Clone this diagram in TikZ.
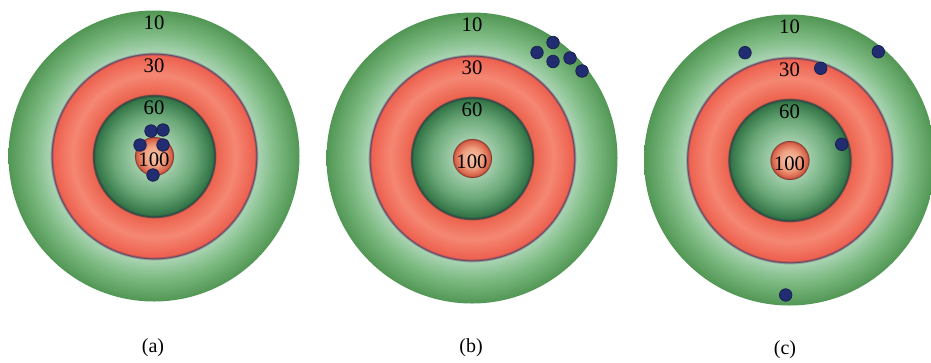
\documentclass[tikz,border=0pt]{standalone}
\usepackage{fontspec}
\setmainfont{Liberation Serif}
\usepackage{tikz}
\usepackage{xcolor}
\definecolor{shotblue}{RGB}{34,44,112}
\definecolor{shotedge}{RGB}{20,26,70}
\pgfdeclareradialshading{target}{\pgfpoint{0bp}{0bp}}{%
  rgb(0bp)=(0.965,0.77,0.66);
  rgb(1.7bp)=(0.94,0.63,0.51);
  rgb(3.05bp)=(0.84,0.37,0.27);
  rgb(3.3bp)=(0.50,0.22,0.20);
  rgb(3.45bp)=(0.62,0.80,0.66);
  rgb(7bp)=(0.42,0.66,0.47);
  rgb(10.1bp)=(0.20,0.46,0.28);
  rgb(10.45bp)=(0.16,0.24,0.26);
  rgb(10.7bp)=(0.925,0.39,0.31);
  rgb(14bp)=(0.96,0.53,0.45);
  rgb(17.3bp)=(0.93,0.38,0.31);
  rgb(17.6bp)=(0.38,0.27,0.40);
  rgb(17.85bp)=(0.66,0.83,0.70);
  rgb(21bp)=(0.49,0.73,0.51);
  rgb(25bp)=(0.32,0.59,0.33);
  rgb(50bp)=(0.32,0.59,0.33)}

\begin{document}
\begin{tikzpicture}[x=1pt, y=-1pt,
  board/.style={shading=target},
  ring/.style={inner sep=0pt, font=\fontsize{20.7}{22}\selectfont},
  shot/.style={fill=shotblue, draw=shotedge, line width=0.6pt},
  caption/.style={inner sep=0pt, font=\fontsize{20}{22}\selectfont},
]
  \useasboundingbox (0,0) rectangle (931,362);
  \clip (0,0) rectangle (931,362);

  \coordinate (ca) at (154,156);
  \coordinate (cb) at (472,158);
  \coordinate (cc) at (789.5,160);

  \foreach \c/\n in {ca/a, cb/b, cc/c} {
    \path[board] (\c) circle (145.5pt);
    \node[ring] (ten\n) at ([yshift=133pt]\c) {10};
    \node[ring] (thirty\n) at ([yshift=90.5pt]\c) {30};
    \node[ring] (sixty\n) at ([yshift=48pt]\c) {60};
    \node[ring] (hundred\n) at ([yshift=-3.5pt]\c) {100};
  }

  \foreach \p in {(151,131), (163,130), (140,145), (163,145), (153,175)}
    \path[shot] \p circle (6.3pt);
  \foreach \p in {(537,52.5), (553,42.5), (553,61.5), (570,58), (582,71)}
    \path[shot] \p circle (6.3pt);
  \foreach \p in {(745,52.7), (878.3,51.7), (820.7,68.3), (841.7,144.3), (785.7,295)}
    \path[shot] \p circle (6.3pt);

  \node[caption] (capa) at (153,348) {(a)};
  \node[caption] (capb) at (471,348) {(b)};
  \node[caption] (capc) at (785,350) {(c)};
\end{tikzpicture}
\end{document}
